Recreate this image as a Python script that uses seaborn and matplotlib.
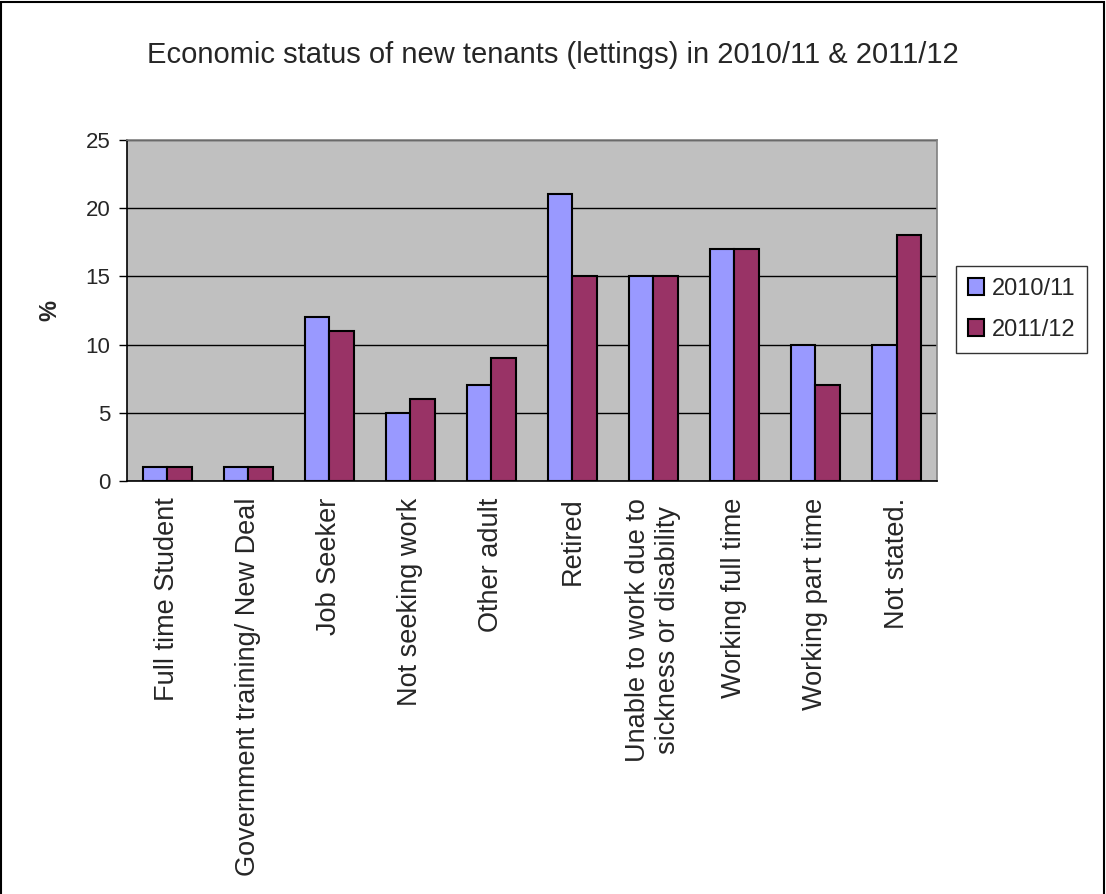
import numpy as np
import pandas as pd
import matplotlib
matplotlib.use('Agg')
import matplotlib.pyplot as plt
import seaborn as sns
from matplotlib.patches import Rectangle

# 数据
categories = ['Full time Student', 'Government training/ New Deal', 'Job Seeker',
              'Not seeking work', 'Other adult', 'Retired',
              'Unable to work due to\nsickness or disability', 'Working full time',
              'Working part time', 'Not stated.']
pct_2010 = [1, 1, 12, 5, 7, 21, 15, 17, 10, 10]
pct_2011 = [1, 1, 11, 6, 9, 15, 15, 17, 7, 18]
years = ['2010/11', '2011/12']

df = pd.DataFrame({
    'category': categories * 2,
    'pct': pct_2010 + pct_2011,
    'year': [years[0]] * len(categories) + [years[1]] * len(categories),
})

sns.set_style('white')
plt.rcParams['font.family'] = ['Liberation Sans', 'DejaVu Sans']

fig = plt.figure(figsize=(11.06, 8.94), dpi=100)
ax = fig.add_axes([0.1148, 0.462, 0.7324, 0.3816])

palette = {'2010/11': '#9999FF', '2011/12': '#993366'}
sns.barplot(data=df, x='category', y='pct', hue='year', palette=palette,
            width=0.6, edgecolor='black', linewidth=1.5, saturation=1,
            ax=ax, legend=False)

ax.set_facecolor('#C0C0C0')
ax.set_ylim(0, 25)
ax.set_xlim(-0.5, len(categories) - 0.5)
ax.set_yticks(range(0, 26, 5))
ax.yaxis.grid(True, color='black', linewidth=1)
ax.set_axisbelow(True)

# x 轴刻度线位于类别之间
ax.set_xticks(np.arange(-0.5, len(categories)), minor=True)
ax.tick_params(axis='x', which='minor', length=7, width=1, color='black', direction='out')
ax.tick_params(axis='x', which='major', length=0, pad=12, labelsize=19.5, rotation=90)
ax.tick_params(axis='y', length=6, width=1, color='black', direction='out', labelsize=16,
               left=True, pad=6)
for lab in ax.get_xticklabels():
    lab.set_verticalalignment('top')
    lab.set_horizontalalignment('center')
    lab.set_multialignment('center')

ax.set_xlabel('')
ax.set_ylabel('%', fontsize=17, fontweight='bold', labelpad=17)

for side in ['left', 'bottom']:
    ax.spines[side].set_color('black')
    ax.spines[side].set_linewidth(1.2)
for side in ['top', 'right']:
    ax.spines[side].set_color('#808080')
    ax.spines[side].set_linewidth(1.2)

fig.text(0.5, 1 - 55 / 894, 'Economic status of new tenants (lettings) in 2010/11 & 2011/12',
         ha='center', va='center', fontsize=21)

handles = [Rectangle((0, 0), 1, 1, facecolor=palette[y], edgecolor='black', linewidth=1.5)
           for y in years]
leg = fig.legend(handles, years, loc='upper left', bbox_to_anchor=(956 / 1106, 1 - 266 / 894),
                 fontsize=17, frameon=True, fancybox=False, edgecolor='black',
                 handlelength=0.7, handleheight=0.7, handletextpad=0.3,
                 borderpad=0.5, labelspacing=0.8, borderaxespad=0)
leg.get_frame().set_linewidth(1)

# 外框
fig.patches.append(Rectangle((0.001, -0.01), 0.997, 1.008, transform=fig.transFigure,
                             fill=False, edgecolor='black', linewidth=1.5))

fig.savefig('out.png', dpi=100)
